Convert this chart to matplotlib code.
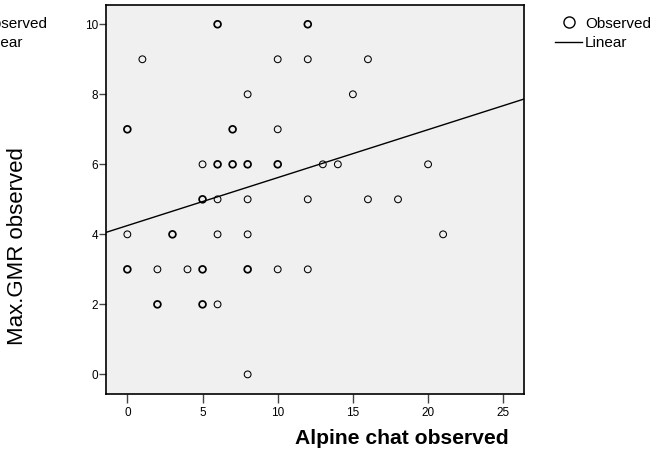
import numpy as np
import matplotlib
matplotlib.use("Agg")
import matplotlib.pyplot as plt
from matplotlib.lines import Line2D

plt.rcParams["font.family"] = ["Liberation Sans", "DejaVu Sans"]

# observed points (x = Alpine chat, y = Max.GMR); count > 1 means overlapping cases
alpine = [6, 12, 1, 10, 12, 16, 8, 15, 0, 7, 10,
          5, 6, 7, 8, 10, 13, 14, 20,
          5, 6, 8, 12, 16, 18,
          0, 3, 6, 8, 21,
          0, 2, 4, 5, 8, 10, 12,
          2, 5, 6, 8]
gmr = [10, 10, 9, 9, 9, 9, 8, 8, 7, 7, 7,
       6, 6, 6, 6, 6, 6, 6, 6,
       5, 5, 5, 5, 5, 5,
       4, 4, 4, 4, 4,
       3, 3, 3, 3, 3, 3, 3,
       2, 2, 2, 0]
count = [2, 2, 1, 1, 1, 1, 1, 1, 2, 2, 1,
         1, 2, 2, 2, 2, 1, 1, 1,
         2, 1, 1, 1, 1, 1,
         1, 2, 1, 1, 1,
         2, 1, 1, 2, 2, 1, 1,
         2, 2, 1, 1]

# linear fit
intercept = 4.25
slope = 0.137

xticks = [0, 5, 10, 15, 20, 25]
yticks = [0, 2, 4, 6, 8, 10]

fig = plt.figure(figsize=(6.62, 4.57), dpi=100)
ax = fig.add_axes([106 / 662, 1 - 394 / 457, 418 / 662, 389 / 457])
ax.set_facecolor("#f0f0f0")

x = np.array(alpine)
y = np.array(gmr)
c = np.array(count)
lw = np.where(c > 1, 1.25, 0.75)
ax.scatter(x, y, s=24, facecolors="none", edgecolors="black", linewidths=lw, zorder=3)

xmin, xmax = -1.42, 26.38
xs = np.array([xmin, xmax])
ax.plot(xs, intercept + slope * xs, color="black", lw=1.0, zorder=2)

ax.set_xlim(xmin, xmax)
ax.set_ylim(-0.56, 10.55)
ax.set_xticks(xticks)
ax.set_yticks(yticks)
ax.tick_params(axis="x", direction="out", length=6.5, width=1, color="#444444",
               labelsize=8.5, pad=2.5)
ax.tick_params(axis="y", direction="out", length=5, width=1, color="#444444",
               labelsize=8.5, pad=0.8)
for s in ax.spines.values():
    s.set_linewidth(1.2)

fig.text(18 / 662, 1 - 246 / 457, "Max.GMR observed", rotation=90,
         ha="center", va="center", fontsize=16)
fig.text(402 / 662, 1 - 438 / 457, "Alpine chat observed", fontweight="bold",
         ha="center", va="center", fontsize=15.2)


def draw_legend(x0):
    # x0: left edge of the legend text in figure pixels
    fig.text((x0) / 662, 1 - 24 / 457, "Observed", ha="left", va="center", fontsize=11)
    fig.text((x0) / 662, 1 - 43 / 457, "Linear", ha="left", va="center", fontsize=11)
    fig.add_artist(Line2D([(x0 - 16) / 662], [1 - 22 / 457], marker="o", ms=8,
                          mfc="none", mec="black", mew=1.0, ls="none"))
    fig.add_artist(Line2D([(x0 - 30) / 662, (x0 - 3) / 662],
                          [1 - 42 / 457, 1 - 42 / 457], color="black", lw=1.0))


draw_legend(585)
draw_legend(-19)

fig.savefig("out.png", dpi=100)
